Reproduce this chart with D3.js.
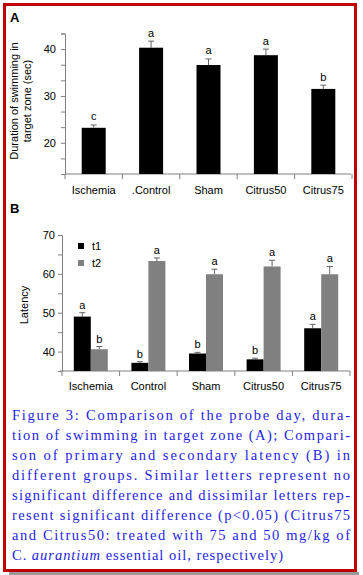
<!DOCTYPE html>
<html>
<head>
<meta charset="utf-8">
<script src="https://cdn.jsdelivr.net/npm/d3@7"></script>
<style>
  body { margin: 0; background: #fff; }
  .tick-label { font-family: "Liberation Sans", Arial, sans-serif; font-size: 11px; fill: #000; }
  .caption { font-family: "Liberation Serif", serif; font-size: 14.5px; fill: #1e1ee6; }
</style>
</head>
<body>
<div id="fig"></div>
<script>
// panel A data
var groupsA = ['Ischemia', '.Control', 'Sham', 'Citrus50', 'Citrus75'];
var durMean = [23.2, 40.3, 36.6, 38.7, 31.5];
var durErr  = [0.6, 1.4, 1.3, 1.3, 0.8];
var durSig  = ['c', 'a', 'a', 'a', 'b'];
var ticksA  = [13.333, 16.667, 20, 23.333, 26.667, 30, 33.333, 36.667, 40, 43.333];
var labelsA = [20, 30, 40];

// panel B data
var groupsB = ['Ischemia', 'Control', 'Sham', 'Citrus50', 'Citrus75'];
var t1Mean = [49.0, 37.1, 39.5, 38.0, 46.0];
var t1Err  = [1.0, 0.3, 0.3, 0.3, 1.0];
var t1Sig  = ['a', 'b', 'b', 'b', 'a'];
var t2Mean = [40.6, 63.3, 59.9, 61.9, 59.9];
var t2Err  = [0.7, 0.8, 1.3, 1.6, 2.0];
var t2Sig  = ['b', 'a', 'a', 'a', 'a'];
var ticksB  = [35, 40, 45, 50, 55, 60, 65, 70];
var labelsB = [40, 50, 60, 70];
var seriesB = ['t1', 't2'];

var captionLines = [
  'Figure 3: Comparison of the probe day, dura-',
  'tion of swimming in target zone (A); Compari-',
  'son of primary and secondary latency (B) in',
  'different groups. Similar letters represent no',
  'significant difference and dissimilar letters rep-',
  'resent significant difference (p<0.05) (Citrus75',
  'and Citrus50: treated with 75 and 50 mg/kg of'
];

var W = 363, H = 575;
var axisCol = '#808080';

var svg = d3.select('#fig').append('svg')
  .attr('width', W)
  .attr('height', H);

// frame + shadow
svg.append('rect')
  .attr('x', 9).attr('y', 572)
  .attr('width', 350).attr('height', 4)
  .attr('fill', '#9a9a9a');
svg.append('rect')
  .attr('x', 4.5).attr('y', 4.5)
  .attr('width', 351).attr('height', 566)
  .attr('fill', '#fff')
  .attr('stroke', '#c00000')
  .attr('stroke-width', 3);

// ---------- panel A ----------
var xA = d3.scaleBand().domain(groupsA).range([65, 352]).paddingInner(0).paddingOuter(0);
var yA = d3.scaleLinear().domain([13.333, 43.333]).range([174, 33.5]);
var gA = svg.append('g');

svg.append('text')
  .attr('x', 10).attr('y', 22)
  .style('font-family', '"Liberation Sans", Arial, sans-serif')
  .style('font-size', '13px').style('font-weight', 'bold')
  .text('A');

var axA = gA.append('g')
  .attr('transform', `translate(65,0)`)
  .call(d3.axisLeft(yA).tickValues(ticksA).tickSize(4).tickFormat(''));
axA.select('.domain').attr('stroke', axisCol);
axA.selectAll('.tick line').attr('stroke', axisCol);

gA.selectAll('.ylabA').data(labelsA).enter().append('text')
  .attr('class', 'tick-label')
  .attr('x', 56).attr('y', d => yA(d) + 4)
  .attr('text-anchor', 'end')
  .text(d => d);

var axBotA = gA.append('g')
  .attr('transform', `translate(0,${yA(13.333)})`);
axBotA.append('line')
  .attr('x1', 65).attr('x2', 351)
  .attr('stroke', axisCol);
axBotA.selectAll('.ct').data(d3.range(6)).enter().append('line')
  .attr('x1', i => 65 + i * xA.step()).attr('x2', i => 65 + i * xA.step())
  .attr('y1', 0).attr('y2', 5)
  .attr('stroke', axisCol);

gA.selectAll('.catA').data(groupsA).enter().append('text')
  .attr('class', 'tick-label')
  .attr('x', d => xA(d) + xA.bandwidth() / 2)
  .attr('y', 194)
  .attr('text-anchor', 'middle')
  .text(d => d);

var bwA = 24;
gA.selectAll('.errA').data(groupsA).enter().append('g')
  .each(function(d, i) {
    var cx = xA(d) + xA.bandwidth() / 2;
    var g = d3.select(this);
    g.append('line')
      .attr('x1', cx).attr('x2', cx)
      .attr('y1', yA(durMean[i])).attr('y2', yA(durMean[i] + durErr[i]))
      .attr('stroke', '#666');
    g.append('line')
      .attr('x1', cx - 3).attr('x2', cx + 3)
      .attr('y1', yA(durMean[i] + durErr[i])).attr('y2', yA(durMean[i] + durErr[i]))
      .attr('stroke', '#666');
    g.append('rect')
      .attr('x', cx - bwA / 2).attr('y', yA(durMean[i]))
      .attr('width', bwA).attr('height', yA(13.333) - yA(durMean[i]))
      .attr('fill', '#000');
    g.append('text')
      .attr('class', 'tick-label')
      .attr('x', cx).attr('y', yA(durMean[i] + durErr[i]) - 4.5)
      .attr('text-anchor', 'middle')
      .text(durSig[i]);
  });

// rotated y title
var titA = gA.append('text')
  .attr('class', 'tick-label')
  .attr('transform', 'translate(0,101) rotate(-90)')
  .attr('text-anchor', 'middle');
titA.append('tspan').attr('x', 0).attr('y', 18).text('Duration of swimming in');
titA.append('tspan').attr('x', 0).attr('y', 31).text('target zone (sec)');

// ---------- panel B ----------
var xB = d3.scaleBand().domain(groupsB).range([62, 350]);
var yB = d3.scaleLinear().domain([35, 70]).range([371, 235]);
var xSub = d3.scaleBand().domain(seriesB).range([0, 34]);
var colB = d3.scaleOrdinal().domain(seriesB).range(['#000000', '#808080']);
var gB = svg.append('g');

svg.append('text')
  .attr('x', 10).attr('y', 213)
  .style('font-family', '"Liberation Sans", Arial, sans-serif')
  .style('font-size', '13px').style('font-weight', 'bold')
  .text('B');

var axB = gB.append('g')
  .attr('transform', `translate(62,0)`)
  .call(d3.axisLeft(yB).tickValues(ticksB).tickSize(4).tickFormat(''));
axB.select('.domain').attr('stroke', axisCol);
axB.selectAll('.tick line').attr('stroke', axisCol);

gB.selectAll('.ylabB').data(labelsB).enter().append('text')
  .attr('class', 'tick-label')
  .attr('x', 55).attr('y', d => yB(d) + 4)
  .attr('text-anchor', 'end')
  .text(d => d);

var axBotB = gB.append('g')
  .attr('transform', `translate(0,${yB(35)})`);
axBotB.append('line')
  .attr('x1', 60).attr('x2', 350)
  .attr('stroke', axisCol);
axBotB.selectAll('.ct').data(d3.range(6)).enter().append('line')
  .attr('x1', i => 62 + i * xB.step()).attr('x2', i => 62 + i * xB.step())
  .attr('y1', 0).attr('y2', 5)
  .attr('stroke', axisCol);

gB.selectAll('.catB').data(groupsB).enter().append('text')
  .attr('class', 'tick-label')
  .attr('x', d => xB(d) + xB.bandwidth() / 2)
  .attr('y', 390)
  .attr('text-anchor', 'middle')
  .text(d => d);

var dataB = [];
groupsB.forEach(function(g, i) {
  dataB.push({ grp: g, s: 't1', v: t1Mean[i], e: t1Err[i], sig: t1Sig[i] });
  dataB.push({ grp: g, s: 't2', v: t2Mean[i], e: t2Err[i], sig: t2Sig[i] });
});

gB.selectAll('.barB').data(dataB).enter().append('g')
  .each(function(d) {
    var x0 = xB(d.grp) + (xB.bandwidth() - 34) / 2 + xSub(d.s);
    var cx = x0 + xSub.bandwidth() / 2;
    var g = d3.select(this);
    g.append('line')
      .attr('x1', cx).attr('x2', cx)
      .attr('y1', yB(d.v)).attr('y2', yB(d.v + d.e))
      .attr('stroke', '#666');
    g.append('line')
      .attr('x1', cx - 3).attr('x2', cx + 3)
      .attr('y1', yB(d.v + d.e)).attr('y2', yB(d.v + d.e))
      .attr('stroke', '#666');
    g.append('rect')
      .attr('x', x0).attr('y', yB(d.v))
      .attr('width', xSub.bandwidth()).attr('height', yB(35) - yB(d.v))
      .attr('fill', colB(d.s));
    g.append('text')
      .attr('class', 'tick-label')
      .attr('x', cx).attr('y', yB(d.v + d.e) - 4)
      .attr('text-anchor', 'middle')
      .text(d.sig);
  });

// legend
var leg = gB.selectAll('.leg').data(seriesB).enter().append('g')
  .attr('transform', (d, i) => `translate(78,${243 + i * 17})`);
leg.append('rect')
  .attr('width', 6).attr('height', 6)
  .attr('fill', d => colB(d));
leg.append('text')
  .attr('class', 'tick-label')
  .attr('x', 14).attr('y', 7)
  .text(d => d);

gB.append('text')
  .attr('class', 'tick-label')
  .attr('transform', 'translate(28,305) rotate(-90)')
  .attr('text-anchor', 'middle')
  .text('Latency');

// ---------- caption ----------
var cap = svg.append('g');
cap.selectAll('.capl').data(captionLines).enter().append('text')
  .attr('class', 'caption')
  .attr('x', 12)
  .attr('y', (d, i) => 420 + i * 20)
  .attr('textLength', 338)
  .attr('lengthAdjust', 'spacing')
  .text(d => d);

var last = cap.append('text')
  .attr('class', 'caption')
  .attr('x', 12)
  .attr('y', 560)
  .attr('textLength', 271)
  .attr('lengthAdjust', 'spacing');
last.append('tspan').text('C. ');
last.append('tspan').style('font-style', 'italic').text('aurantium');
last.append('tspan').text(' essential oil, respectively)');
</script>
</body>
</html>
